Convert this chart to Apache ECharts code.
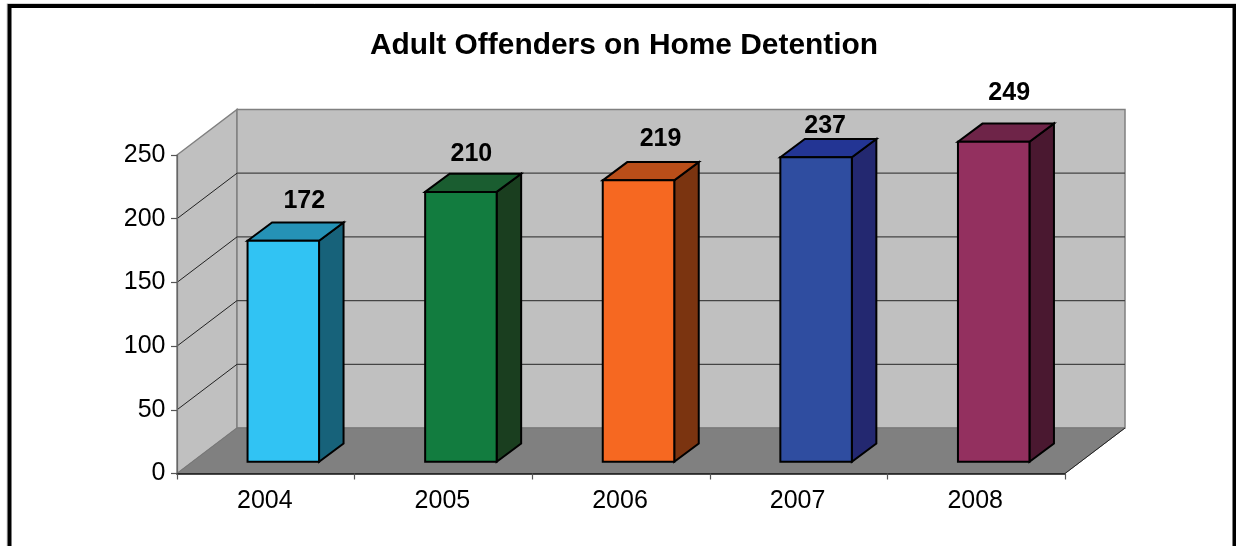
<!DOCTYPE html>
<html>
<head>
<meta charset="utf-8">
<style>html,body{margin:0;padding:0;background:#fff}#c{width:1236px;height:546px}</style>
<script src="https://cdn.jsdelivr.net/npm/echarts@6/dist/echarts.min.js"></script>
</head>
<body>
<div id="c"></div>
<script>
const years = ['2004', '2005', '2006', '2007', '2008'];
const offenders = [172, 210, 219, 237, 249];
const yTicks = [0, 50, 100, 150, 200, 250];
const titleText = 'Adult Offenders on Home Detention';

// styling
const frontColors = ['#31C3F3', '#127C3F', '#F66821', '#2F4DA0', '#93305F'];
const topColors   = ['#2592B6', '#1A5D30', '#B94E19', '#233594', '#6E2448'];
const sideColors  = ['#17627A', '#1A3E1F', '#7B3410', '#232870', '#4A1830'];
const labelDx = [21, 10.5, 22, 9, 15.5];
const labelLift = [40, 37.5, 41.5, 31.5, 49];
const FONT = '"Liberation Sans", Arial, sans-serif';
const WALL = { dx: 60, dy: -45.5 };
const BAR = { w: 71.5, shift: 17.5, lift: 11.8, dx: 24.5, dy: -18.2, scale: 1.0085 };

function renderWalls(params, api) {
  const cs = params.coordSys;
  const x0 = cs.x, x1 = cs.x + cs.width;
  const yBase = api.coord([0, 0])[1], yTop = api.coord([0, 250])[1];
  const d = WALL;
  const children = [
    { type: 'polygon', shape: { points: [[x0, yBase], [x0, yTop], [x0 + d.dx, yTop + d.dy], [x0 + d.dx, yBase + d.dy]] },
      style: { fill: '#C0C0C0', stroke: '#808080', lineWidth: 1.5 } },
    { type: 'rect', shape: { x: x0 + d.dx, y: yTop + d.dy, width: cs.width, height: yBase - yTop },
      style: { fill: '#C0C0C0', stroke: '#808080', lineWidth: 1.5 } },
    { type: 'polygon', shape: { points: [[x0, yBase], [x0 + d.dx, yBase + d.dy], [x1 + d.dx, yBase + d.dy], [x1, yBase]] },
      style: { fill: '#808080', stroke: '#777', lineWidth: 1 } },
    { type: 'line', shape: { x1: x1, y1: yBase, x2: x1 + d.dx, y2: yBase + d.dy }, style: { stroke: '#222', lineWidth: 1 } }
  ];
  yTicks.slice(1, -1).forEach(function (t) {
    const y = api.coord([0, t])[1];
    children.push({ type: 'line', shape: { x1: x0, y1: y, x2: x0 + d.dx, y2: y + d.dy }, style: { stroke: '#222', lineWidth: 1 } });
    children.push({ type: 'line', shape: { x1: x0 + d.dx, y1: y + d.dy, x2: x1 + d.dx, y2: y + d.dy }, style: { stroke: '#444', lineWidth: 1.2 } });
  });
  return { type: 'group', children: children };
}

function renderBar(params, api) {
  const i = params.dataIndex;
  const c = api.coord([i, 0]);
  const v = api.coord([i, api.value(1)]);
  const b = BAR;
  const xl = c[0] + b.shift - b.w / 2, xr = xl + b.w;
  const yb = c[1] - b.lift;
  const yt = yb - (c[1] - v[1]) * b.scale;
  const stroke = { stroke: '#000', lineWidth: 2, lineJoin: 'miter' };
  return { type: 'group', children: [
    { type: 'polygon', shape: { points: [[xr, yb], [xr, yt], [xr + b.dx, yt + b.dy], [xr + b.dx, yb + b.dy]] },
      style: Object.assign({ fill: sideColors[i] }, stroke) },
    { type: 'polygon', shape: { points: [[xl, yt], [xl + b.dx, yt + b.dy], [xr + b.dx, yt + b.dy], [xr, yt]] },
      style: Object.assign({ fill: topColors[i] }, stroke) },
    { type: 'rect', shape: { x: xl, y: yt, width: b.w, height: yb - yt },
      style: Object.assign({ fill: frontColors[i] }, stroke) },
    { type: 'text', x: c[0] + b.shift + labelDx[i], y: yt - labelLift[i],
      style: { text: String(api.value(1)), fill: '#000', font: 'bold 25px ' + FONT, textAlign: 'center', textVerticalAlign: 'middle' } }
  ] };
}

const chart = echarts.init(document.getElementById('c'), null, { renderer: 'canvas' });
chart.setOption({
  animation: false,
  backgroundColor: '#fff',
  title: { text: titleText, left: 624, top: 26, textAlign: 'center', padding: [5, 10, 5, 0],
    textStyle: { color: '#000', fontFamily: FONT, fontWeight: 'bold', fontSize: 29.9 } },
  grid: { left: 177, right: 171, top: 155, bottom: 72.5 },
  xAxis: { type: 'category', data: years, z: 5,
    axisLine: { lineStyle: { color: '#111', width: 1.5 } },
    axisTick: { show: true, length: 6, alignWithLabel: false, lineStyle: { color: '#555', width: 1.2 } },
    axisLabel: { color: '#000', fontFamily: FONT, fontSize: 25, margin: 15, padding: [0, 2, 0, 0] } },
  yAxis: { type: 'value', min: 0, max: 250, interval: 50, z: 5,
    axisLine: { show: true, lineStyle: { color: '#666', width: 1.2 } },
    axisTick: { show: true, length: 6, lineStyle: { color: '#555', width: 1.2 } },
    splitLine: { show: false },
    axisLabel: { color: '#000', fontFamily: FONT, fontSize: 25, margin: 11.5 } },
  graphic: [
    { type: 'rect', z: 99, shape: { x: 7, y: 3.5, width: 1230, height: 600 },
      style: { fill: 'none', stroke: '#d4d4d4', lineWidth: 1 } },
    { type: 'rect', z: 100, shape: { x: 9.5, y: 6, width: 1225, height: 600 },
      style: { fill: 'none', stroke: '#000', lineWidth: 4 } }],
  series: [
    { type: 'custom', z: -1, silent: true, clip: false, renderItem: renderWalls, data: [[0, 0]] },
    { type: 'custom', z: 6, clip: false, renderItem: renderBar,
      encode: { x: 0, y: 1 },
      data: offenders.map(function (v, i) { return [i, v]; }) }
  ]
});
</script>
</body>
</html>
